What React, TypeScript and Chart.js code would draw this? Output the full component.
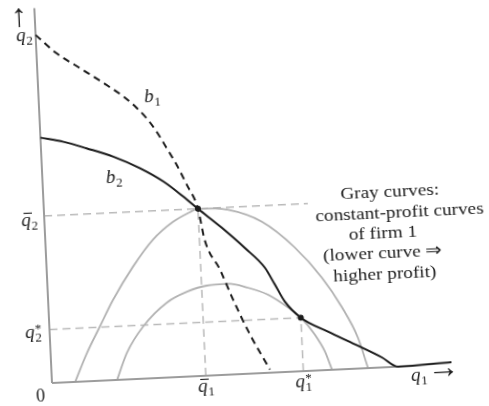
import React, { useEffect, useRef } from "react";
import { Chart, registerables } from "chart.js";

Chart.register(...registerables);

// Firm 1's best-response curve b1 (dashed)
const B1_Q1 = [0, 0.5, 1.07, 1.64, 2.12, 2.44, 2.68, 2.91, 3.14, 3.37, 3.6, 3.85, 3.98, 4.33, 4.62, 5.0, 5.46];
const B1_Q2 = [8.71, 8.23, 7.83, 7.43, 7.07, 6.77, 6.49, 6.15, 5.73, 5.3, 4.79, 4.18, 3.4, 2.63, 1.87, 0.98, 0.08];

// Firm 2's best-response curve b2 (solid)
const B2_Q1 = [0, 0.57, 1.14, 1.8, 2.45, 3.02, 3.5, 3.85, 4.42, 4.97, 5.45, 5.68, 5.91, 6.29, 6.95, 7.61, 8.27, 8.66, 10.0];
const B2_Q2 = [6.14, 6.01, 5.82, 5.58, 5.26, 4.9, 4.5, 4.18, 3.68, 3.15, 2.63, 2.2, 1.76, 1.34, 0.96, 0.61, 0.25, 0, 0.05];

// Constant-profit curves of firm 1 (gray)
const ISO_HI_Q1 = [0.58, 0.91, 1.26, 1.62, 2.16, 2.69, 3.21, 3.64, 3.85, 4.59, 5.43, 6.22, 6.86, 7.33, 7.69, 7.91];
const ISO_HI_Q2 = [0, 0.71, 1.35, 2.0, 2.81, 3.46, 3.88, 4.1, 4.18, 4.12, 3.78, 3.1, 2.32, 1.55, 0.78, 0];
const ISO_LO_Q1 = [1.63, 1.91, 2.34, 2.96, 3.48, 3.98, 4.51, 5.0, 5.5, 5.98, 6.29, 6.62, 6.85, 7.01];
const ISO_LO_Q2 = [0, 0.67, 1.3, 1.87, 2.12, 2.25, 2.27, 2.15, 1.95, 1.61, 1.34, 0.9, 0.47, 0];

// Nash equilibrium (q̄1, q̄2) and Stackelberg outcome (q1*, q2*)
const Q1_BAR = 3.85;
const Q2_BAR = 4.18;
const Q1_STAR = 6.29;
const Q2_STAR = 1.34;

// Axis extents and the end of the q̄2 guide
const X_MAX = 10.5;
const Y_MAX = 9.4;
const Y_AXIS_TOP = 9.38;
const X_AXIS_END = 8.66;
const Q2_BAR_GUIDE_END = 6.6;

const NOTE_LINES = [
  "Gray curves:",
  "constant-profit curves",
  "of firm 1",
  "(lower curve \u21D2",
  "higher profit)",
];
const NOTE_X = [8.66, 8.88, 8.44, 8.41, 8.44];
const NOTE_Y = [4.37, 3.84, 3.35, 2.84, 2.32];

const INK = "#1c1c1c";
const AXIS_GRAY = "#9c9c9c";
const CURVE_GRAY = "#b2b2b2";
const GUIDE_GRAY = "#bababa";

const SERIF = "'Liberation Serif', 'Times New Roman', serif";
const MATH_FONT = `italic 19px ${SERIF}`;
const SUB_FONT = `13px ${SERIF}`;
const NOTE_FONT = `17.5px ${SERIF}`;
const ARROW_FONT = `32px ${SERIF}`;

const pts = (xs: number[], ys: number[]) => xs.map((x, i) => ({ x, y: ys[i] }));

function mathLabel(
  ctx: CanvasRenderingContext2D,
  letter: string,
  sub: string,
  x: number,
  baseline: number,
  align: "left" | "right" | "center",
  opts: { bar?: boolean; star?: boolean } = {}
) {
  ctx.font = MATH_FONT;
  const wl = ctx.measureText(letter).width;
  ctx.font = SUB_FONT;
  const ws = ctx.measureText(sub).width;
  const total = wl + ws + 0.5;
  const left = align === "left" ? x : align === "right" ? x - total : x - total / 2;
  ctx.textAlign = "left";
  ctx.textBaseline = "alphabetic";
  ctx.font = MATH_FONT;
  ctx.fillText(letter, left, baseline);
  ctx.font = SUB_FONT;
  ctx.fillText(sub, left + wl + 0.5, baseline + 4);
  if (opts.star) ctx.fillText("*", left + wl + 0.5, baseline - 5);
  if (opts.bar) {
    ctx.beginPath();
    ctx.moveTo(left + 2.5, baseline - 12.5);
    ctx.lineTo(left + wl + 1.5, baseline - 12.5);
    ctx.lineWidth = 1.1;
    ctx.strokeStyle = INK;
    ctx.stroke();
  }
}

// Draws an arrow glyph centred on (cx, cy) using its measured ink box
function arrowGlyph(ctx: CanvasRenderingContext2D, glyph: string, cx: number, cy: number) {
  ctx.font = ARROW_FONT;
  ctx.textAlign = "left";
  ctx.textBaseline = "alphabetic";
  const m = ctx.measureText(glyph);
  const w = m.actualBoundingBoxLeft + m.actualBoundingBoxRight;
  const h = m.actualBoundingBoxAscent + m.actualBoundingBoxDescent;
  const x = cx - w / 2 + m.actualBoundingBoxLeft;
  const y = cy - h / 2 + m.actualBoundingBoxAscent;
  ctx.fillText(glyph, x, y);
}

const labelPlugin = {
  id: "duopolyLabels",
  afterDatasetsDraw(chart: any) {
    const ctx: CanvasRenderingContext2D = chart.ctx;
    const xs = chart.scales.x;
    const ys = chart.scales.y;
    const X = (v: number) => xs.getPixelForValue(v);
    const Y = (v: number) => ys.getPixelForValue(v);
    const xEnd = B2_Q1[B2_Q1.length - 1];
    ctx.save();
    ctx.fillStyle = INK;

    // vertical axis: arrow and q2 labels
    arrowGlyph(ctx, "\u2191", X(0) - 15.5, Y(Y_MAX) + 9);
    mathLabel(ctx, "q", "2", X(0) - 3, Y(B1_Q2[0]) + 5, "right");
    mathLabel(ctx, "q", "2", X(0) - 6.5, Y(Q2_BAR) + 9, "right", { bar: true });
    mathLabel(ctx, "q", "2", X(0) - 8, Y(Q2_STAR) + 8, "right", { star: true });

    // origin
    ctx.font = `18px ${SERIF}`;
    ctx.textAlign = "center";
    ctx.textBaseline = "alphabetic";
    ctx.fillText("0", X(0) - 12, Y(0) + 18);

    // horizontal axis labels
    mathLabel(ctx, "q", "1", X(Q1_BAR), Y(0) + 16, "center", { bar: true });
    mathLabel(ctx, "q", "1", X(Q1_STAR), Y(0) + 16, "center", { star: true });
    mathLabel(ctx, "q", "1", X(xEnd) - 41, Y(0) + 15, "left");
    arrowGlyph(ctx, "\u2192", X(xEnd) - 8.5, Y(0) + 7.5);

    // curve names
    mathLabel(ctx, "b", "1", X(2.64), Y(6.89), "left");
    mathLabel(ctx, "b", "2", X(1.59), Y(4.93), "left");

    // explanatory note
    ctx.font = NOTE_FONT;
    ctx.textAlign = "center";
    ctx.textBaseline = "middle";
    NOTE_LINES.forEach((line, i) => {
      ctx.save();
      ctx.translate(X(NOTE_X[i]), Y(NOTE_Y[i]));
      ctx.scale(1.1, 1);
      ctx.fillText(line, 0, 0);
      ctx.restore();
    });
    ctx.restore();
  },
};

export default function App() {
  const canvasRef = useRef<HTMLCanvasElement | null>(null);

  useEffect(() => {
    const canvas = canvasRef.current;
    if (!canvas) return;

    const line = (data: any[], color: string, width: number, dash: number[] = [], order = 0) => ({
      data,
      borderColor: color,
      borderWidth: width,
      borderDash: dash,
      cubicInterpolationMode: "monotone" as const,
      pointRadius: 0,
      fill: false,
      clip: false as const,
      order,
    });

    const chart = new Chart(canvas, {
      type: "line",
      data: {
        datasets: [
          {
            data: [
              { x: Q1_BAR, y: Q2_BAR },
              { x: Q1_STAR, y: Q2_STAR },
            ],
            showLine: false,
            pointRadius: 3,
            pointBackgroundColor: INK,
            pointBorderWidth: 0,
            clip: false,
            order: 0,
          } as any,
          line(pts(B2_Q1, B2_Q2), INK, 2, [], 1),
          line(pts(B1_Q1, B1_Q2), INK, 2, [7, 5], 2),
          line([{ x: 0, y: 0 }, { x: 0, y: Y_AXIS_TOP }], AXIS_GRAY, 2, [], 3),
          line([{ x: 0, y: 0 }, { x: X_AXIS_END, y: 0 }], AXIS_GRAY, 2, [], 3),
          line(pts(ISO_HI_Q1, ISO_HI_Q2), CURVE_GRAY, 1.8, [], 4),
          line(pts(ISO_LO_Q1, ISO_LO_Q2), CURVE_GRAY, 1.8, [], 4),
          line([{ x: 0, y: Q2_BAR }, { x: Q2_BAR_GUIDE_END, y: Q2_BAR }], GUIDE_GRAY, 1.5, [8, 5], 5),
          line([{ x: Q1_BAR, y: 0 }, { x: Q1_BAR, y: Q2_BAR }], GUIDE_GRAY, 1.5, [8, 5], 5),
          line([{ x: 0, y: Q2_STAR }, { x: Q1_STAR, y: Q2_STAR }], GUIDE_GRAY, 1.5, [8, 5], 5),
          line([{ x: Q1_STAR, y: 0 }, { x: Q1_STAR, y: Q2_STAR }], GUIDE_GRAY, 1.5, [8, 5], 5),
        ],
      },
      options: {
        animation: false,
        responsive: false,
        devicePixelRatio: 1,
        layout: { padding: { left: 52, top: 7, right: 68, bottom: 47 } },
        scales: {
          x: { type: "linear", min: 0, max: X_MAX, display: false },
          y: { type: "linear", min: 0, max: Y_MAX, display: false },
        },
        plugins: { legend: { display: false }, tooltip: { enabled: false } },
      },
      plugins: [labelPlugin],
    });

    return () => chart.destroy();
  }, []);

  return (
    <div
      style={{
        position: "fixed",
        left: 0,
        top: 0,
        width: 489,
        height: 406,
        overflow: "hidden",
        background: "#fff",
      }}
    >
      <canvas
        ref={canvasRef}
        width={540}
        height={430}
        style={{
          position: "absolute",
          left: 0,
          top: 0,
          width: 540,
          height: 430,
          transform: "rotate(-2.7deg)",
          transformOrigin: "52px 383px",
        }}
      />
    </div>
  );
}
